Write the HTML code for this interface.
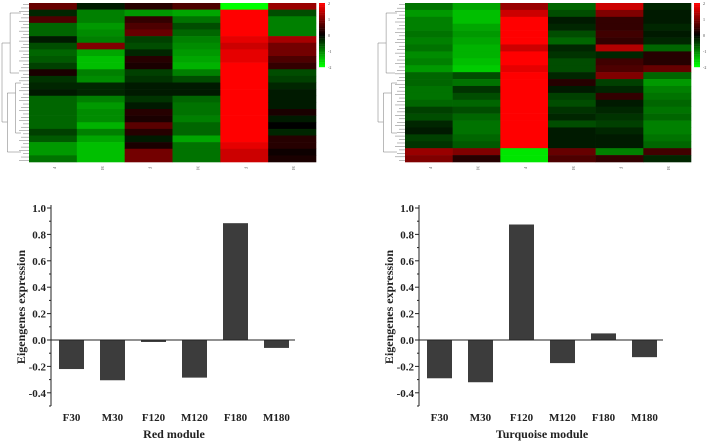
<!DOCTYPE html>
<html><head><meta charset="utf-8"><style>
html,body{margin:0;padding:0;background:#fff;}
svg{display:block;font-family:"Liberation Serif",serif;}
</style></head><body>
<svg id="s" width="708" height="441" viewBox="0 0 708 441"></svg>
<script>
const ns="http://www.w3.org/2000/svg";
const svg=document.getElementById('s');
const categories=["F30","M30","F120","M120","F180","M180"];
const redValues=[-0.22,-0.305,-0.015,-0.285,0.885,-0.06];
const turqValues=[-0.29,-0.32,0.875,-0.175,0.05,-0.13];
const yTicks=[1.0,0.8,0.6,0.4,0.2,0.0,-0.2,-0.4];
const hmLabels=["F","M","F","M","F","M"];
const legendTicks=[2,1,0,-1,-2];
const redHeat=[
[0.8,-0.3,0.6,-0.8,-0.8,-0.2,-0.6,-0.8,-0.7,-0.5,0.2,-0.4,-0.3,-0.2,-0.8,-0.8,-0.8,-0.8,-0.8,-0.5,-0.7,-1.2,-1.2,-0.9],
[-0.2,-1,-1,-1.2,-1.1,-1,1,-1.3,-1.5,-1.5,-1,-1.1,-0.3,-0.3,-1,-1.2,-1.1,-1.1,-1.4,-1,-1.3,-1.5,-1.5,-1.5],
[0.3,-1.2,0.4,0.6,0.8,-0.5,-0.6,-0.3,0.3,0.2,-0.5,-0.4,-0.2,-0.2,-0.4,-0.2,0.3,0.2,0.7,0.3,-0.2,0.2,0.9,0.9],
[0.6,-1.3,-0.9,-0.6,-0.8,-1,-1.1,-1.2,-1.3,-1.4,-1,-0.6,-0.2,-0.2,-0.8,-0.9,-0.9,-1,-0.8,-0.8,-1.3,-0.9,-0.9,-0.9],
[-2,2,2,2,2,1.8,1.6,1.8,1.8,2,2,2,2,2,2,2,2,2,2,2,2,1.8,1.6,1.6],
[1.2,-0.6,-1,-1,-1,1.3,0.9,0.9,0.6,0.4,-0.6,-0.5,-0.3,-0.2,-0.2,-0.2,0.2,-0.2,0,-0.3,0.3,0.3,0.1,0.2]];
const turqHeat=[
[-0.9,-1.2,-1,-1,-0.9,-1,-0.9,-1.1,-1,-1.2,-0.8,-0.8,-0.9,-0.9,-0.8,-0.5,-0.6,-0.3,-0.2,-0.5,-0.4,1.2,1],
[-1.3,-1.5,-1.5,-1.3,-1.2,-1.3,-1.4,-1.4,-1.5,-1.6,-0.6,-0.9,-0.4,-0.6,-0.8,-0.6,-0.8,-0.9,-0.9,-0.8,-0.7,1,0.3],
[1.2,1.6,2,2,2,2,1.6,2,2,1.8,2,2,2,2,2,2,2,2,2,2,2,-1.8,-1.8],
[-0.8,-0.6,-0.2,-0.3,-0.6,-0.8,-0.3,-0.4,-0.6,-0.6,-0.3,0.3,-0.2,-0.5,-0.6,-0.4,-0.3,-0.6,-0.2,-0.2,-0.2,0.8,0.6],
[1.6,1,0.4,0.4,0.5,0.4,1.4,-0.3,0.5,0.6,1,-0.5,-0.3,0.4,-0.2,-0.3,-0.4,-0.5,-0.3,-0.2,-0.2,-1,0.4],
[-0.3,-0.2,-0.2,-0.3,-0.2,-0.3,-0.8,0.3,0.3,0.8,-0.8,-1.2,-1,-0.9,-0.8,-0.9,-0.8,-1,-1,-0.9,-0.8,0.5,-0.3]];

function el(t,a,p){const e=document.createElementNS(ns,t);for(const k in a)e.setAttribute(k,a[k]);(p||svg).appendChild(e);return e;}
function col(v){v=Math.max(-2,Math.min(2,v));if(v>=0){return `rgb(${Math.round(255*v/2)},0,0)`;}return `rgb(0,${Math.round(255*(-v)/2)},0)`;}

function heatmap(data,x0,x1,y0,y1,dx0,cbx,name){
  const g=el('g',{});
  
  
  const nc=data.length,nr=data[0].length,cw=(x1-x0)/nc,rh=(y1-y0)/nr;
  data.forEach((c,i)=>c.forEach((v,j)=>{
    const r=el('rect',{x:x0+i*cw,y:y0+j*rh,width:cw+0.3,height:rh+0.3,fill:col(v)},g);
    
    
  }));
  for(let i=0;i<nc;i++){
    const t=el('text',{x:x0+(i+0.5)*cw,y:y1+6,'font-size':4,fill:'#555','text-anchor':'middle',transform:`rotate(90 ${x0+(i+0.5)*cw} ${y1+6})`},g);
    t.textContent=hmLabels[i];
    
    
  }
  // dendrogram
  const d=el('g',{stroke:'#777','stroke-width':0.5,fill:'none'},g);
  
  
  for(let j=0;j<nr*2;j++){const yy=y0+(j+0.5)*rh/2;el('line',{x1:x0-6-(j%3)*2,y1:yy,x2:x0,y2:yy},d);}
  const w=x0-dx0;
  el('path',{d:`M${dx0} ${y0+40} V${y1-40} M${dx0} ${y0+40} H${dx0+w*0.3} M${dx0} ${y1-40} H${dx0+w*0.2}
   M${dx0+w*0.3} ${y0+10} V${y0+70} M${dx0+w*0.2} ${y0+90} V${y1-10} M${dx0+w*0.3} ${y0+10} H${x0-8} M${dx0+w*0.3} ${y0+70} H${x0-10}
   M${dx0+w*0.2} ${y0+90} H${dx0+w*0.5} M${dx0+w*0.2} ${y1-10} H${x0-8} M${dx0+w*0.5} ${y0+80} V${y0+130} M${dx0+w*0.5} ${y0+80} H${x0-8} M${dx0+w*0.5} ${y0+130} H${x0-8}`},d);
  // colorbar
  const cb=el('g',{},g);
  
  
  for(let k=0;k<40;k++){const v=2-4*k/39;el('rect',{x:cbx,y:y0+k*64/40,width:6,height:1.8,fill:col(v)},cb);}
  legendTicks.forEach((v,k)=>{const t=el('text',{x:cbx+9,y:y0+2+k*16,'font-size':4,fill:'#444'},cb);t.textContent=v;});
}
heatmap(redHeat,29,316,3,162,2,319,'red-module-heatmap');
heatmap(turqHeat,405,691,3,162,378,694,'turquoise-module-heatmap');

function bars(vals,ax,title,name){
  const g=el('g',{});
  
  
  const y=v=>340-v*132;
  const x=i=>ax+20.5+i*41;
  el('line',{x1:ax,y1:205,x2:ax,y2:406,stroke:'#222','stroke-width':1},g);
  yTicks.forEach(v=>{
    el('line',{x1:ax-4,y1:y(v),x2:ax,y2:y(v),stroke:'#222'},g);
    el('line',{x1:ax-2,y1:y(v-0.1),x2:ax,y2:y(v-0.1),stroke:'#222'},g);
    const t=el('text',{x:ax-5,y:y(v)+4,'font-size':11,'font-weight':'bold','text-anchor':'end',fill:'#222'},g);
    t.textContent=v.toFixed(1);
    
    
  });
  vals.forEach((v,i)=>{
    const r=el('rect',{x:x(i)-12.5,y:Math.min(y(v),y(0)),width:25,height:Math.abs(y(v)-y(0)),fill:'#3c3c3c'},g);
    
    
    const t=el('text',{x:x(i),y:421,'font-size':11,'font-weight':'bold','text-anchor':'middle',fill:'#222'},g);
    t.textContent=categories[i];
    
    
  });
  el('line',{x1:ax,y1:y(0),x2:ax+244,y2:y(0),stroke:'#222'},g);
  const yt=el('text',{x:ax-26,y:307,'font-size':12,'font-weight':'bold','text-anchor':'middle',fill:'#222',transform:`rotate(-90 ${ax-26} 307)`},g);
  yt.textContent='Eigengenes expression';
  
  
  const xt=el('text',{x:ax+123,y:438,'font-size':12,'font-weight':'bold','text-anchor':'middle',fill:'#222'},g);
  xt.textContent=title;
  
  
}
bars(redValues,51,'Red module','red-module-bar-chart');
bars(turqValues,419,'Turquoise module','turquoise-module-bar-chart');
</script>
</body></html>
